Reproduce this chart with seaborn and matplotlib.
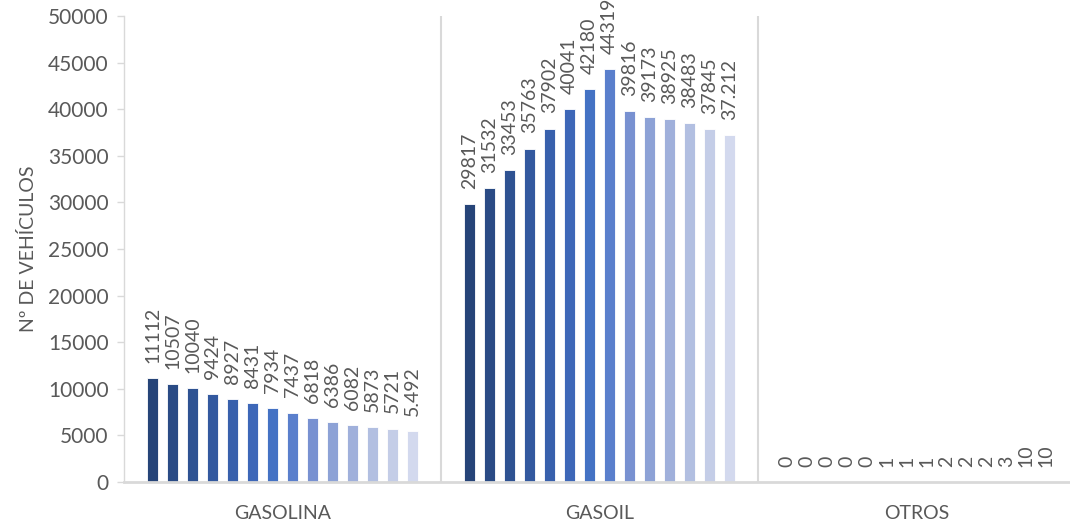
import matplotlib
matplotlib.use("Agg")
import matplotlib.pyplot as plt
import seaborn as sns
import pandas as pd

# Vehicle counts per fuel type, one value per year
categories = ["GASOLINA", "GASOIL", "OTROS"]
years = [str(y) for y in range(2008, 2022)]
gasolina = [11112, 10507, 10040, 9424, 8927, 8431, 7934, 7437, 6818, 6386, 6082, 5873, 5721, 5492]
gasoil = [29817, 31532, 33453, 35763, 37902, 40041, 42180, 44319, 39816, 39173, 38925, 38483, 37845, 37212]
otros = [0, 0, 0, 0, 0, 1, 1, 1, 2, 2, 2, 3, 10, 10]

gasolina_labels = ["11112", "10507", "10040", "9424", "8927", "8431", "7934", "7437",
                   "6818", "6386", "6082", "5873", "5721", "5.492"]
gasoil_labels = ["29817", "31532", "33453", "35763", "37902", "40041", "42180", "44319",
                 "39816", "39173", "38925", "38483", "37845", "37.212"]
otros_labels = [str(v) for v in otros]

palette = ["#264478", "#2A4B85", "#2E5292", "#33599F", "#3860AC", "#3D67B8", "#4472C4",
           "#5A7FCC", "#7891D1", "#8DA2D6", "#A0B0DB", "#B2BFE1", "#C4CDE7", "#D3D9EE"]

df = pd.DataFrame({
    "tipo": [c for c in categories for _ in years],
    "anio": years * 3,
    "vehiculos": gasolina + gasoil + otros,
})

sns.set_style("white")
plt.rcParams["font.family"] = ["Lato", "DejaVu Sans"]
text_color = "#595959"
grid_color = "#D9D9D9"

fig = plt.figure(figsize=(10.7, 5.24), dpi=100)
ax = fig.add_axes([124 / 1070, 42 / 524, 951 / 1070, 466 / 524])

sns.barplot(data=df, x="tipo", y="vehiculos", hue="anio", order=categories,
            hue_order=years, palette=palette, saturation=1, width=0.883, gap=0.47,
            edgecolor="white", linewidth=0.6, legend=False, ax=ax)

label_sets = [gasolina_labels, gasoil_labels, otros_labels]
for i, cont in enumerate(ax.containers):
    labs = [label_sets[j][i] for j in range(3)]
    ax.bar_label(cont, labels=labs, rotation=90, padding=11, fontsize=14,
                 color=text_color, clip_on=False)

ax.set_xlim(-0.5, 2.5)
ax.set_ylim(0, 50000)
ax.set_yticks(range(0, 50001, 5000))
ax.tick_params(axis="y", which="both", left=True, length=5, width=1,
               color=grid_color, labelsize=15, labelcolor=text_color, pad=6)
ax.tick_params(axis="x", bottom=False, labelsize=14, labelcolor=text_color, pad=13)

# separators between fuel groups
for xpos in (0.5, 1.5):
    ax.axvline(xpos, color=grid_color, linewidth=1.5, zorder=0)

for side in ("top", "right"):
    ax.spines[side].set_visible(False)
ax.spines["left"].set_color(grid_color)
ax.spines["left"].set_linewidth(1)
ax.spines["bottom"].set_color(grid_color)
ax.spines["bottom"].set_linewidth(2)

ax.set_xlabel("")
ax.set_ylabel("Nº DE VEHÍCULOS", fontsize=14, color=text_color, labelpad=8)

fig.savefig("out.png", dpi=100)
